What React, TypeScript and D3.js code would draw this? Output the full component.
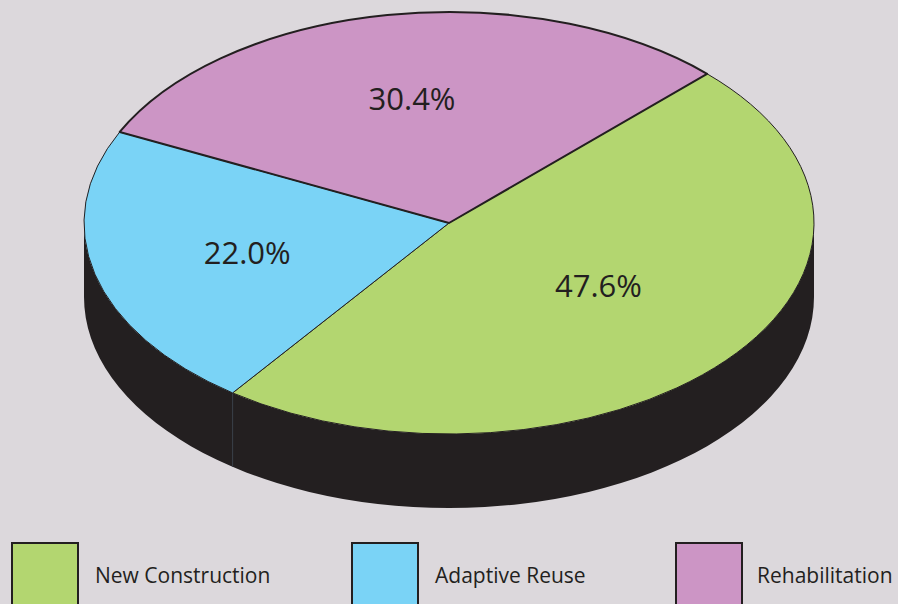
import React from "react";
import * as d3 from "d3";

const categories = ["New Construction", "Adaptive Reuse", "Rehabilitation"];
const values = [47.6, 22.0, 30.4];
const labels = ["47.6%", "22.0%", "30.4%"];
const colors = ["#b3d670", "#7ad3f6", "#cc95c5"];

const W = 898;
const H = 604;
const BG = "#dcd8dc";
const DARK = "#231f20";

export default function App() {
  const cx = 449, cy = 223, rx = 365, ry = 211, depth = 74;
  const pie = d3
    .pie<number>()
    .sort(null)
    .value((d) => d)
    .startAngle(Math.PI / 4)
    .endAngle(Math.PI / 4 + 2 * Math.PI);
  const arcs = pie(values);

  const px = (a: number, f = 1) => cx + rx * f * Math.sin(a);
  const py = (a: number, f = 1) => cy - ry * f * Math.cos(a);

  const slicePath = (a0: number, a1: number) => {
    const large = a1 - a0 > Math.PI ? 1 : 0;
    return `M${cx},${cy}L${px(a0)},${py(a0)}A${rx},${ry} 0 ${large} 1 ${px(a1)},${py(a1)}Z`;
  };

  const sidePath =
    `M${cx + rx},${cy}A${rx},${ry} 0 0 1 ${cx - rx},${cy}` +
    `L${cx - rx},${cy + depth}A${rx},${ry} 0 0 0 ${cx + rx},${cy + depth}Z`;

  // side seams where slice boundaries hit the front half
  const seams = arcs
    .map((a) => a.endAngle % (2 * Math.PI))
    .filter((a) => a > Math.PI / 2 && a < (3 * Math.PI) / 2);

  const labelFrac = [0.54, 0.57, 0.6];
  const labelDy = [-12, 0, 0];
  const strokeW = [1, 1, 2];

  const legendX = [12, 352, 676];
  const legendTextX = [95, 435, 757];

  return (
    <svg
      width={W}
      height={H}
      style={{ position: "absolute", left: 0, top: 0, display: "block" }}
      fontFamily="'Open Sans', sans-serif"
    >
      <rect x={0} y={0} width={W} height={H} fill={BG} />
      <path d={sidePath} fill={DARK} />
      {seams.map((a, i) => (
        <line
          key={i}
          x1={px(a)}
          y1={py(a)}
          x2={px(a)}
          y2={py(a) + depth}
          stroke="#3a3f48"
          strokeWidth={1}
        />
      ))}
      {arcs.map((a, i) => (
        <path
          key={i}
          d={slicePath(a.startAngle, a.endAngle)}
          fill={colors[i]}
          stroke={DARK}
          strokeWidth={strokeW[i]}
          strokeLinejoin="round"
        />
      ))}
      {arcs.map((a, i) => {
        const m = (a.startAngle + a.endAngle) / 2;
        return (
          <text
            key={i}
            x={px(m, labelFrac[i])}
            y={py(m, labelFrac[i]) + labelDy[i]}
            textAnchor="middle"
            dominantBaseline="central"
            fontSize={31}
            fill={DARK}
          >
            {labels[i]}
          </text>
        );
      })}
      {categories.map((c, i) => (
        <g key={c}>
          <rect
            x={legendX[i]}
            y={543}
            width={66}
            height={80}
            fill={colors[i]}
            stroke={DARK}
            strokeWidth={2}
          />
          <text x={legendTextX[i]} y={583} fontSize={21} fill={DARK}>
            {c}
          </text>
        </g>
      ))}
    </svg>
  );
}
